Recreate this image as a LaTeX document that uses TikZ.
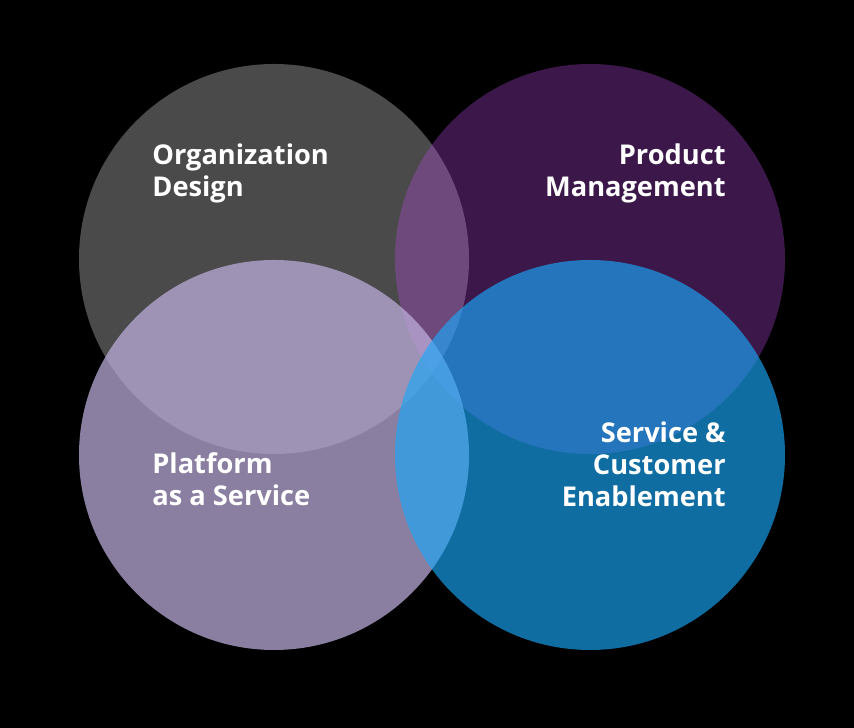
\documentclass[tikz,border=0pt]{standalone}
\usepackage{fontspec}
\setmainfont{Open Sans}
\usepackage{xcolor}
\definecolor{orggray}{RGB}{74, 74, 74}
\definecolor{prodpurple}{RGB}{185, 73, 227}
\definecolor{platlav}{RGB}{190, 175, 222}
\definecolor{servblue}{RGB}{26, 168, 250}
\usepackage{tikz}
\usetikzlibrary{positioning}
\tikzstyle{area} = [circle, minimum size=7.8cm, inner sep=0pt]
\tikzstyle{heading} = [text=white, inner sep=0pt, font=\bfseries\fontsize{15.5}{18.4}\selectfont]

\begin{document}
\begin{tikzpicture}
    \fill[black] (0,0) rectangle (17.08,14.56);

    \node[area, fill=orggray] (org) at (5.48,9.38) {};
    \node[area, fill=prodpurple, fill opacity=0.33] (prod) at (11.8,9.38) {};
    \node[area, fill=platlav, fill opacity=0.73] (plat) at (5.48,5.46) {};
    \node[area, fill=servblue, fill opacity=0.65] (serv) at (11.8,5.46) {};

    \node[heading, anchor=base west, align=left] (orgtext) at (3.04,10.62) {Organization\\Design};
    \node[heading, anchor=base east, align=right] (prodtext) at (14.52,10.62) {Product\\Management};
    \node[heading, anchor=base west, align=left] (plattext) at (3.04,4.44) {Platform\\as a Service};
    \node[heading, anchor=base east, align=right] (servtext) at (14.52,4.42) {Service \&\\Customer\\Enablement};
\end{tikzpicture}
\end{document}
